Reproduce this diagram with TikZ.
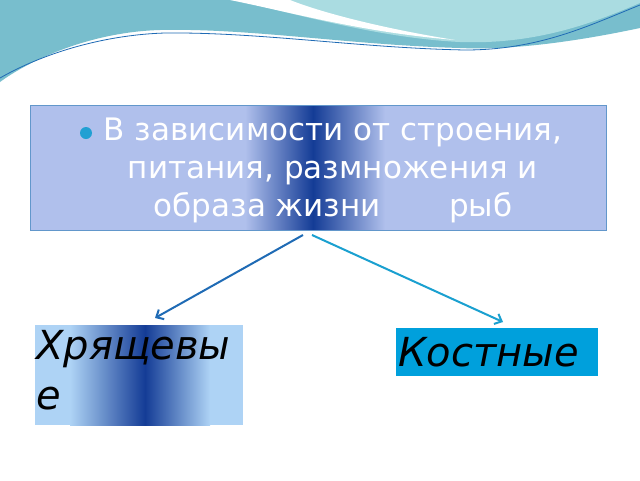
\documentclass[tikz,border=0pt]{standalone}
\usepackage{fontspec}
\setmainfont{DejaVu Sans}
\usetikzlibrary{arrows.meta}
\definecolor{wavecolor}{RGB}{120,190,205}
\definecolor{wavelight}{RGB}{170,220,225}
\definecolor{boxcolor}{RGB}{176,192,236}
\definecolor{boxdark}{RGB}{20,60,150}
\definecolor{leftcolor}{RGB}{174,211,245}
\definecolor{rightcolor}{RGB}{0,160,220}
\definecolor{linedark}{RGB}{31,107,181}
\definecolor{linelight}{RGB}{26,160,208}
\tikzset{
  kind/.style={inner sep=2pt, font=\fontsize{40}{50}\selectfont\itshape, text=black},
  link/.style={line width=2pt, -{Straight Barb[length=6pt,width=11pt]}},
}
\begin{document}
\begin{tikzpicture}[x=1pt,y=-1pt]
\useasboundingbox (0,0) rectangle (640,480);
\fill[white] (0,0) rectangle (640,480);
% top wave
\fill[wavecolor] (0,0)--(640,0)--(640,28) .. controls (560,45) and (500,50) .. (460,48)
  .. controls (350,45) and (250,28) .. (160,30) .. controls (90,32) and (30,60) .. (0,82) -- cycle;
\fill[wavelight] (235,0) .. controls (300,15) and (380,38) .. (460,42) .. controls (540,45) and (600,20) .. (640,3) -- (640,0) -- cycle;
\fill[white] (230,0) .. controls (290,12) and (360,32) .. (455,40) .. controls (380,28) and (320,12) .. (290,0) -- cycle;
\draw[linedark, line width=0.8pt] (0,78) .. controls (40,55) and (100,35) .. (165,33) .. controls (260,32) and (360,48) .. (465,50) .. controls (540,50) and (590,25) .. (640,5);
% top box
\fill[boxcolor] (30,105) rectangle (606,230);
\shade[left color=boxcolor, right color=boxdark] (245,105) rectangle (313,230);
\shade[left color=boxdark, right color=boxcolor] (313,105) rectangle (385,230);
\draw[linedark!70] (30,105) rectangle (606,230);
\node[text=white, align=center, font=\fontsize{31}{38}\selectfont] (txt) at (333,170)
  {В зависимости от строения,\\питания, размножения и\\образа жизни\hspace{2.2em}рыб};
\fill[cyan!70!teal] (86,133) circle (6);
\coordinate (top1) at (303,235);
\coordinate (top2) at (312,235);
% left kind
\fill[leftcolor] (35,325) rectangle (243,425);
\shade[left color=leftcolor, right color=boxdark] (70,325) rectangle (145,425);
\shade[left color=boxdark, right color=leftcolor] (145,325) rectangle (210,425);
\node[kind, anchor=north west, align=left, text width=200] (chr) at (34,328) {Хрящевы\\е};
% right kind
\fill[rightcolor] (396,328) rectangle (598,376);
\node[kind, anchor=west] (kos) at (396,352) {Костные};
\draw[link, linedark] (top1) -- (155,318);
\draw[link, linelight] (top2) -- (503,322);
\end{tikzpicture}
\end{document}
